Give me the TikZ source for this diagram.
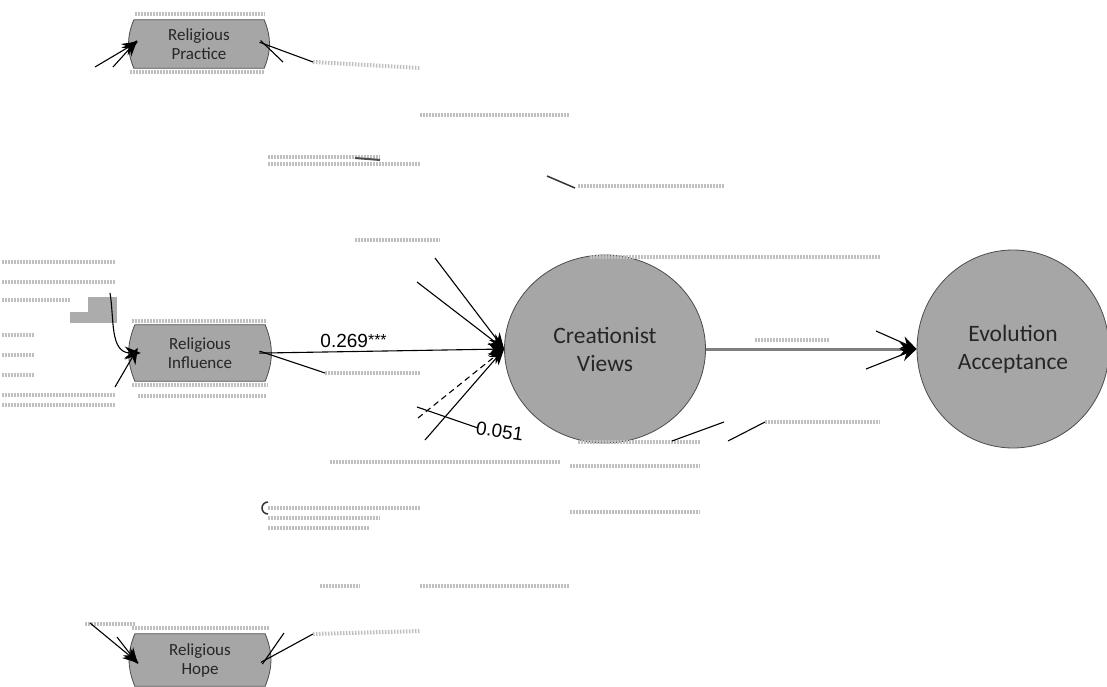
\documentclass[tikz,border=0pt]{standalone}
\usepackage{fontspec}
\setmainfont{Carlito}
\newfontfamily\arialf{Liberation Sans}
\usetikzlibrary{arrows.meta,shapes.geometric,backgrounds,calc}
\definecolor{fillgray}{HTML}{A6A6A6}
\definecolor{linegray}{HTML}{7F7F7F}
\begin{document}
\begin{tikzpicture}[x=1pt,y=-1pt,
  relbox/.style={font=\fontsize{17}{19}\selectfont, align=center, text=black!85,
    minimum width=130pt, inner sep=0pt},
  bigc/.style={ellipse, fill=fillgray, draw=black!70, line width=0.8pt,
    font=\fontsize{23.5}{28}\selectfont, align=center, inner sep=0pt, text=black!85},
  path/.style={draw=black, line width=1.1pt, -{Stealth[length=16pt,width=13pt]}},
  frag/.style={draw=black, line width=1.1pt},
  ghost/.style={draw=gray!50, line width=4pt, dash pattern=on 1.5pt off 1.5pt},
  coef/.style={font=\arialf\fontsize{19}{20}\selectfont, inner sep=0pt}
]
\useasboundingbox (0,0) rectangle (1107,687);

% nodes
\node[relbox, minimum height=48pt] (pr) at (199,44) {Religious\\Practice};
\node[relbox, minimum height=56pt] (inf) at (200,353) {Religious\\Influence};
\node[relbox, minimum height=52pt] (hope) at (200,660) {Religious\\Hope};
\node[bigc, minimum width=201pt, minimum height=188pt] (cv) at (605,349) {Creationist\\Views};
\node[bigc, minimum width=192pt, minimum height=198pt] (ea) at (1013,349) {Evolution\\Acceptance};

\begin{scope}[on background layer]
  \foreach \n in {pr,inf,hope}
    \path[fill=fillgray, draw=black!70, line width=0.8pt]
      (\n.north west) -- (\n.north east) to[bend left=22] (\n.south east)
      -- (\n.south west) to[bend left=22] (\n.north west);
\end{scope}

% faint residue bands
\draw[ghost] (135,14) -- (265,14);
\draw[ghost] (130,72) -- (265,72);
\draw[ghost] (420,115) -- (570,115);
\draw[ghost] (268,157) -- (380,157);
\draw[ghost] (268,164) -- (420,164);
\draw[black!70, line width=2pt] (355,158) -- (380,160);
\draw[ghost] (578,186) -- (725,186);
\draw[black!80, line width=1.5pt] (547,176) -- (575,188);
\draw[ghost] (355,240) -- (440,240);
\draw[ghost] (2,262) -- (115,262);
\draw[ghost] (2,282) -- (115,282);
\draw[ghost] (2,300) -- (70,300);
\fill[gray!65] (70,312) rectangle (117,323);
\fill[gray!65] (88,297) rectangle (117,312);
\draw[ghost] (2,335) -- (35,335);
\draw[ghost] (2,355) -- (35,355);
\draw[ghost] (2,375) -- (35,375);
\draw[ghost] (2,395) -- (115,395);
\draw[ghost] (2,405) -- (115,405);
\draw[ghost] (132,321) -- (266,321);
\draw[ghost] (132,385) -- (268,385);
\draw[ghost] (138,396) -- (266,396);
\draw[ghost] (325,373) -- (420,373);
\draw[ghost] (590,257) -- (880,257);
\draw[ghost] (755,340) -- (830,340);
\draw[ghost] (578,442) -- (700,442);
\draw[ghost] (330,462) -- (560,462);
\draw[ghost] (570,466) -- (700,466);
\draw[ghost] (268,508) -- (420,508);
\draw[ghost] (268,518) -- (380,518);
\draw[ghost] (268,528) -- (370,528);
\draw[black!80, line width=1.5pt] (268,514) arc[start angle=90, end angle=270, radius=6];
\draw[ghost] (570,512) -- (700,512);
\draw[ghost] (320,586) -- (360,586);
\draw[ghost] (420,586) -- (570,586);
\draw[ghost] (132,628) -- (270,628);
\draw[ghost] (85,624) -- (135,624);

% free ends
\coordinate (pa1) at (95,67);
\coordinate (pa2) at (113,67);
\coordinate (po1) at (283,62);
\coordinate (po2) at (313,62);
\coordinate (po3) at (420,68);
\coordinate (ia1) at (110,293);
\coordinate (ia2) at (115,387);
\coordinate (io1) at (325,373);
\coordinate (ha1) at (90,623);
\coordinate (ha2) at (117,637);
\coordinate (ho1) at (284,633);
\coordinate (ho2) at (313,634);
\coordinate (ho3) at (420,631);
\coordinate (f1) at (435,258);
\coordinate (f2) at (417,282);
\coordinate (f3) at (418,418);
\coordinate (f4) at (425,440);
\coordinate (g1) at (417,407);
\coordinate (g2) at (478,428);
\coordinate (e1) at (876,331);
\coordinate (e2) at (866,369);
\coordinate (b1) at (672,441);
\coordinate (b2) at (724,422);
\coordinate (b3) at (728,441);
\coordinate (b4) at (765,422);
\coordinate (b5) at (880,422);

% Religious Practice
\draw[path, shorten >=-5pt] (pa1) -- (pr.west);
\draw[path, shorten >=-5pt] (pa2) -- (pr.west);
\draw[frag, shorten <=-5pt] (pr.east) -- (po1);
\draw[frag, shorten <=-5pt] (pr.east) -- (po2);
\draw[ghost] (po2) -- (po3);

% Religious Influence
\draw[path, shorten >=-6pt] (ia1) to[out=-80, in=180] (inf.west);
\draw[path, shorten >=-6pt] (ia2) -- (inf.west);
\draw[path, shorten <=-6pt] (inf.east) -- node[coef, above=3pt, pos=0.37]
  {0.269\raisebox{2pt}{\fontsize{16}{16}\selectfont***}} (cv.west);
\draw[frag, shorten <=-6pt] (inf.east) -- (io1);

% Religious Hope
\draw[path, shorten >=-5pt] (ha1) -- (hope.west);
\draw[path, shorten >=-5pt] (ha2) -- (hope.west);
\draw[frag, shorten <=-5pt] (hope.east) -- (ho1);
\draw[frag, shorten <=-5pt] (hope.east) -- (ho2);
\draw[ghost] (ho2) -- (ho3);

% into Creationist Views
\draw[path] (f1) -- (cv.west);
\draw[path] (f2) -- (cv.west);
\draw[path, dash pattern=on 6pt off 4pt] (f3) -- (cv.west);
\draw[path] (f4) -- (cv.west);
\draw[frag] (g1) -- (g2);
\node[coef, rotate=-8, anchor=west] (c051) at (476,428) {0.051};

% Creationist Views -> Evolution Acceptance
\draw[draw=linegray, line width=3pt, -{Stealth[length=17pt,width=14pt,color=black]}] (cv.east) -- (ea.west);
\draw[path] (e1) -- (ea.west);
\draw[path] (e2) -- (ea.west);

% lower right residue lines
\draw[frag] (b1) -- (b2);
\draw[frag] (b3) -- (b4);
\draw[ghost] (b4) -- (b5);
\end{tikzpicture}
\end{document}
